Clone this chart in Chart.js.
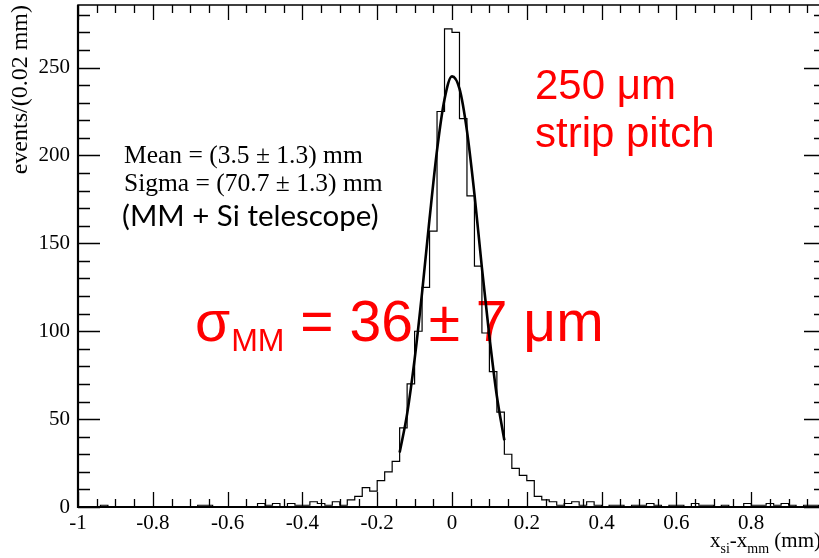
<!DOCTYPE html>
<html>
<head>
<meta charset="utf-8">
<script src="https://cdn.jsdelivr.net/npm/chart.js@4.4.1/dist/chart.umd.min.js"></script>
<style>
  html, body { margin: 0; padding: 0; overflow: hidden; background: #fff; }
  canvas { display: block; }
</style>
</head>
<body>
<canvas id="chart" width="840" height="558"></canvas>
<script>
// histogram: 100 bins of 0.02 mm from -1 to 1
const binLow = -1;
const binWidth = 0.02;
const counts = [
  0, 0, 0, 1, 0, 0, 0, 0, 0, 0,
  0, 0, 0, 0, 0, 0, 1, 1, 0, 0,
  0, 0, 0, 0, 2, 1, 2, 0, 2, 1,
  1, 3, 2, 1, 3, 1, 4, 6, 11, 9,
  15, 20, 26, 45, 70, 100, 125, 157, 225, 272,
  270, 221, 177, 137, 99, 77, 54, 30, 22, 18,
  15, 6, 4, 3, 1, 2, 3, 1, 3, 1,
  0, 1, 1, 0, 1, 1, 2, 1, 0, 1,
  1, 0, 2, 1, 1, 0, 1, 0, 0, 2,
  1, 1, 2, 1, 2, 1, 0, 1, 1, 0
];

// gaussian fit curve
const fitX = [-0.14, -0.12, -0.1, -0.08, -0.06, -0.04, -0.02, 0, 0.02, 0.04, 0.06, 0.08, 0.1, 0.12, 0.14];
const fitY = [31, 53, 84, 122, 164, 203, 232, 245, 238, 214, 178, 136, 97, 63, 38];

const xTicks = [-1, -0.8, -0.6, -0.4, -0.2, 0, 0.2, 0.4, 0.6, 0.8, 1];
const yTicks = [0, 50, 100, 150, 200, 250];
const yMax = 285.6;

const histPoints = counts.map((c, i) => ({ x: binLow + i * binWidth, y: c }));
histPoints.push({ x: binLow + counts.length * binWidth, y: counts[counts.length - 1] });
const fitPoints = fitX.map((x, i) => ({ x: x, y: fitY[i] }));

// ROOT style frame with ticks on all four sides
const frame = {
  id: 'frame',
  afterDraw(chart) {
    const { ctx, chartArea: a, scales: { x, y } } = chart;
    ctx.save();
    ctx.strokeStyle = '#000';
    ctx.lineWidth = 1.3;
    ctx.beginPath();
    for (let v = 0; v <= yMax; v += 10) {
      const py = Math.round(y.getPixelForValue(v)) + 0.5;
      const len = v % 50 === 0 ? 22 : 12;
      ctx.moveTo(a.left, py); ctx.lineTo(a.left + len, py);
      ctx.moveTo(a.right, py); ctx.lineTo(a.right - len, py);
    }
    for (let i = 0; i <= 40; i++) {
      const px = Math.round(x.getPixelForValue(-1 + i * 0.05)) + 0.5;
      const len = i % 4 === 0 ? 15 : 8;
      ctx.moveTo(px, a.bottom); ctx.lineTo(px, a.bottom - len);
      ctx.moveTo(px, a.top); ctx.lineTo(px, a.top + len);
    }
    ctx.stroke();

    ctx.lineWidth = 1.5;
    ctx.strokeRect(a.left, a.top, a.right - a.left, a.bottom - a.top);
    ctx.lineWidth = 2.2;
    ctx.beginPath();
    ctx.moveTo(a.left, a.top); ctx.lineTo(a.left, a.bottom); ctx.lineTo(a.right, a.bottom);
    ctx.stroke();

    // axis titles
    ctx.fillStyle = '#000';
    ctx.textBaseline = 'alphabetic';
    ctx.save();
    ctx.translate(27, 5);
    ctx.rotate(-Math.PI / 2);
    ctx.textAlign = 'right';
    ctx.font = '24px "Liberation Serif"';
    ctx.fillText('events/(0.02 mm)', 0, 0);
    ctx.restore();

    ctx.textAlign = 'left';
    let tx = 710;
    const parts = [['x', 21, 0], ['si', 14, 6], ['-x', 21, 0], ['mm', 14, 6], [' (mm)', 21, 0]];
    parts.forEach(p => {
      ctx.font = p[1] + 'px "Liberation Serif"';
      ctx.fillText(p[0], tx, 547 + p[2]);
      tx += ctx.measureText(p[0]).width;
    });
    ctx.restore();
  }
};

// text boxes drawn under the histogram
const notes = {
  id: 'notes',
  beforeDatasetsDraw(chart) {
    const ctx = chart.ctx;
    ctx.save();
    ctx.textAlign = 'left';
    ctx.textBaseline = 'alphabetic';

    ctx.fillStyle = '#000';
    ctx.font = '25.5px "Liberation Serif"';
    ctx.fillText('Mean = (3.5 \u00b1 1.3) mm', 124, 163);
    ctx.fillText('Sigma = (70.7 \u00b1 1.3) mm', 124, 191);
    ctx.font = '29.5px Lato';
    ctx.fillText('(MM + Si telescope)', 122, 226);

    ctx.fillStyle = '#ff0000';
    ctx.font = '42px "Liberation Sans"';
    ctx.fillText('250 \u03bcm', 535, 99);
    ctx.fillText('strip pitch', 535, 147);

    let sx = 195;
    ctx.font = '57px "Liberation Sans"';
    ctx.fillText('\u03c3', sx, 341);
    sx += ctx.measureText('\u03c3').width + 1;
    ctx.font = '32px "Liberation Sans"';
    ctx.fillText('MM', sx, 351);
    sx += ctx.measureText('MM').width;
    ctx.font = '57px "Liberation Sans"';
    ctx.fillText(' = 36 \u00b1 7 \u03bcm', sx, 341);
    ctx.restore();
  }
};

Chart.defaults.font.family = '"Liberation Serif"';
Chart.defaults.color = '#000';

new Chart(document.getElementById('chart'), {
  type: 'line',
  data: {
    datasets: [
      {
        data: fitPoints,
        borderColor: '#000',
        borderWidth: 2.6,
        pointRadius: 0,
        fill: false,
        cubicInterpolationMode: 'monotone'
      },
      {
        data: histPoints,
        borderColor: '#000',
        borderWidth: 1.2,
        pointRadius: 0,
        fill: false,
        stepped: 'before'
      }
    ]
  },
  options: {
    responsive: false,
    animation: false,
    layout: { padding: { top: 5, right: 14, left: 0, bottom: 0 } },
    plugins: { legend: { display: false }, tooltip: { enabled: false } },
    scales: {
      x: {
        type: 'linear',
        min: -1,
        max: 1,
        grid: { display: false, drawTicks: false },
        border: { display: false },
        afterBuildTicks: s => { s.ticks = xTicks.map(v => ({ value: v })); },
        afterFit: s => { s.height = 51; s.paddingLeft = 0; s.paddingRight = 0; },
        ticks: {
          padding: 4,
          maxRotation: 0,
          autoSkip: false,
          font: { size: 21 },
          callback: v => String(Math.round(v * 10) / 10)
        }
      },
      y: {
        min: 0,
        max: yMax,
        grid: { display: false, drawTicks: false },
        border: { display: false },
        afterBuildTicks: s => { s.ticks = yTicks.map(v => ({ value: v })); },
        afterFit: s => { s.width = 78; s.paddingTop = 0; s.paddingBottom = 0; },
        ticks: { padding: 8, font: { size: 21 } }
      }
    }
  },
  plugins: [notes, frame]
});
</script>
</body>
</html>
